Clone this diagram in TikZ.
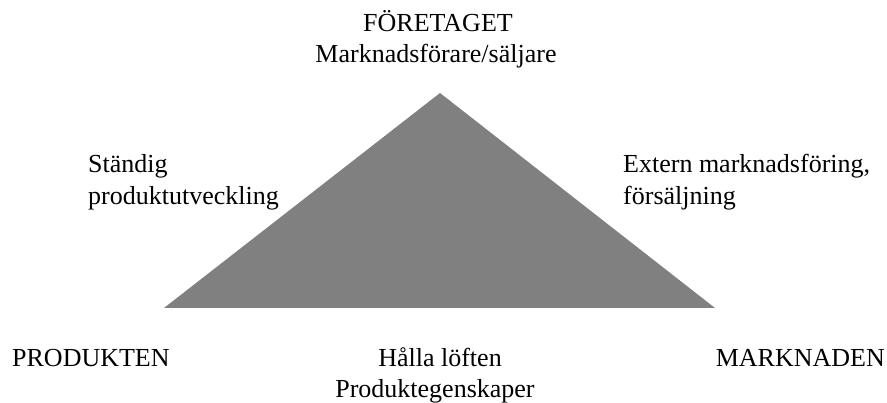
\documentclass[tikz,border=0pt]{standalone}
\usepackage{fontspec}
\setmainfont{Liberation Serif}
\begin{document}
\begin{tikzpicture}[x=1pt,y=-1pt,
  lbl/.style={inner sep=0pt,font=\fontsize{26}{31}\selectfont},
  lblc/.style={lbl,anchor=base},
  lbll/.style={lbl,anchor=base west},
  lblr/.style={lbl,anchor=base east}]
\useasboundingbox (0,0) rectangle (887,403);
% triangle of the three corners
\coordinate (apex) at (440,93);
\coordinate (bl) at (164,308);
\coordinate (br) at (715,308);
\fill[fill={rgb,255:red,128;green,128;blue,128}] (apex) -- (bl) -- (br) -- cycle;
% top corner
\node[lblc] (foretaget) at (438,32) {FÖRETAGET};
\node[lblc] (saljare) at (436,63) {Marknadsförare/säljare};
% sides
\node[lbll] (standig) at (88,173) {Ständig};
\node[lbll] (produktutv) at (88,205) {produktutveckling};
\node[lbll] (extern) at (623,173) {Extern marknadsföring,};
\node[lbll] (forsaljning) at (623,205) {försäljning};
% bottom corners and base
\node[lbll] (produkten) at (12,367) {PRODUKTEN};
\node[lblr] (marknaden) at (885,367) {MARKNADEN};
\node[lblc] (halla) at (440,367) {Hålla löften};
\node[lblc] (egenskaper) at (435,398) {Produktegenskaper};
\end{tikzpicture}
\end{document}
